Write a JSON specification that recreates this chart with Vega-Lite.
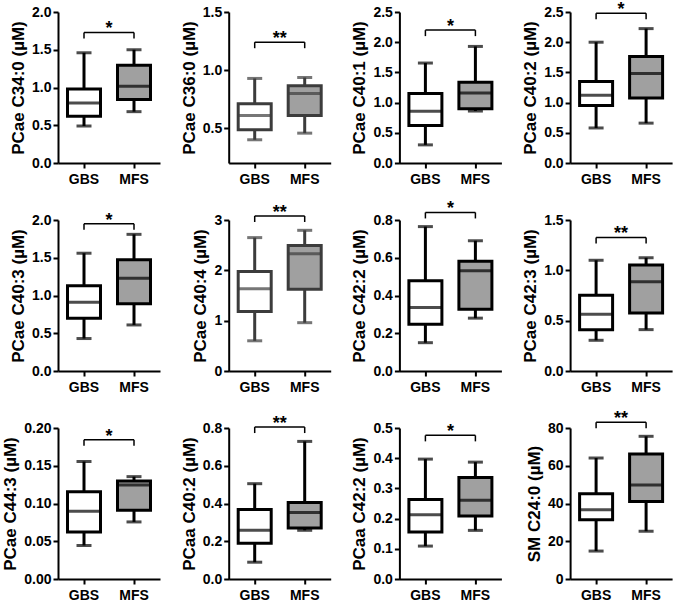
{
"$schema": "https://vega.github.io/schema/vega-lite/v6.json",
"background": "white",
"padding": {"left": 1, "top": 1, "right": 5, "bottom": 5},
"columns": 4,
"spacing": {"row": 57, "column": 68.7},
"bounds": "flush",
"datasets": {
"p1": [{"group":"GBS","min":0.49,"q1":0.62,"median":0.795,"q3":0.98,"max":1.46,"bracket":1.73,"sig":"*"},{"group":"MFS","min":0.68,"q1":0.84,"median":1.015,"q3":1.295,"max":1.5,"bracket":1.73,"sig":"*"}],
"p2": [{"group":"GBS","min":0.4,"q1":0.486,"median":0.61,"q3":0.711,"max":0.928,"bracket":1.24,"sig":"**"},{"group":"MFS","min":0.457,"q1":0.61,"median":0.798,"q3":0.864,"max":0.936,"bracket":1.24,"sig":"**"}],
"p3": [{"group":"GBS","min":0.3,"q1":0.62,"median":0.855,"q3":1.15,"max":1.655,"bracket":2.2,"sig":"*"},{"group":"MFS","min":0.86,"q1":0.9,"median":1.16,"q3":1.335,"max":1.93,"bracket":2.2,"sig":"*"}],
"p4": [{"group":"GBS","min":0.58,"q1":0.95,"median":1.12,"q3":1.35,"max":2.0,"bracket":2.48,"sig":"*"},{"group":"MFS","min":0.66,"q1":1.075,"median":1.48,"q3":1.765,"max":2.225,"bracket":2.48,"sig":"*"}],
"p5": [{"group":"GBS","min":0.43,"q1":0.7,"median":0.91,"q3":1.13,"max":1.56,"bracket":1.95,"sig":"*"},{"group":"MFS","min":0.61,"q1":0.89,"median":1.23,"q3":1.475,"max":1.81,"bracket":1.95,"sig":"*"}],
"p6": [{"group":"GBS","min":0.6,"q1":1.18,"median":1.635,"q3":1.975,"max":2.65,"bracket":3.08,"sig":"**"},{"group":"MFS","min":0.96,"q1":1.625,"median":2.33,"q3":2.495,"max":2.795,"bracket":3.08,"sig":"**"}],
"p7": [{"group":"GBS","min":0.15,"q1":0.248,"median":0.336,"q3":0.478,"max":0.765,"bracket":0.84,"sig":"*"},{"group":"MFS","min":0.28,"q1":0.327,"median":0.531,"q3":0.581,"max":0.69,"bracket":0.84,"sig":"*"}],
"p8": [{"group":"GBS","min":0.305,"q1":0.411,"median":0.564,"q3":0.753,"max":1.1,"bracket":1.327,"sig":"**"},{"group":"MFS","min":0.411,"q1":0.577,"median":0.886,"q3":1.052,"max":1.125,"bracket":1.327,"sig":"**"}],
"p9": [{"group":"GBS","min":0.0444,"q1":0.0622,"median":0.0898,"q3":0.1156,"max":0.1556,"bracket":0.1844,"sig":"*"},{"group":"MFS","min":0.0756,"q1":0.0911,"median":0.1244,"q3":0.1298,"max":0.1356,"bracket":0.1844,"sig":"*"}],
"p10": [{"group":"GBS","min":0.089,"q1":0.19,"median":0.258,"q3":0.368,"max":0.505,"bracket":0.805,"sig":"**"},{"group":"MFS","min":0.258,"q1":0.27,"median":0.352,"q3":0.405,"max":0.729,"bracket":0.805,"sig":"**"}],
"p11": [{"group":"GBS","min":0.109,"q1":0.156,"median":0.213,"q3":0.263,"max":0.397,"bracket":0.4756,"sig":"*"},{"group":"MFS","min":0.161,"q1":0.209,"median":0.261,"q3":0.336,"max":0.387,"bracket":0.4756,"sig":"*"}],
"p12": [{"group":"GBS","min":14.8,"q1":31.4,"median":36.7,"q3":45.2,"max":64.1,"bracket":83,"sig":"**"},{"group":"MFS","min":25.3,"q1":41.0,"median":49.8,"q3":66.2,"max":75.6,"bracket":83,"sig":"**"}]
},
"concat": [
{"width":102,"height":151,"data":{"name":"p1"},
"encoding":{"x":{"field":"group","type":"nominal","sort":["GBS","MFS"],"scale":{"paddingInner":0,"paddingOuter":0.02},"axis":{"title":null,"labelAngle":0}},
"y":{"field":"median","type":"quantitative","scale":{"domain":[0,2],"nice":false},"axis":{"title":"PCae C34:0 (µM)","values":[0,0.5,1,1.5,2],"format":".1f"}}},
"layer":[
{"mark":{"type":"rule","color":"black","strokeWidth":3},"encoding":{"y":{"field":"min","type":"quantitative"},"y2":{"field":"max"}}},
{"mark":{"type":"bar","size":33,"stroke":"black","strokeWidth":3},"encoding":{"y":{"field":"q1","type":"quantitative"},"y2":{"field":"q3"},"fill":{"field":"group","type":"nominal","scale":{"domain":["GBS","MFS"],"range":["#ffffff","#a0a0a0"]},"legend":null}}},
{"mark":{"type":"tick","size":33,"thickness":3,"color":"black"}},
{"mark":{"type":"tick","size":15,"thickness":3,"color":"black"},"encoding":{"y":{"field":"min","type":"quantitative"}}},
{"mark":{"type":"tick","size":15,"thickness":3,"color":"black"},"encoding":{"y":{"field":"max","type":"quantitative"}}},
{"mark":{"type":"line","color":"black","strokeWidth":1.5},"encoding":{"y":{"field":"bracket","type":"quantitative"}}},
{"mark":{"type":"rule","color":"black","strokeWidth":1.5,"y2Offset":6},"encoding":{"y":{"field":"bracket","type":"quantitative"},"y2":{"field":"bracket"}}},
{"transform":[{"filter":"datum.group == 'GBS'"}],"mark":{"type":"text","dx":25,"dy":2,"baseline":"alphabetic","fontSize":18,"fontWeight":"bold","font":"Liberation Sans","color":"black"},"encoding":{"y":{"field":"bracket","type":"quantitative"},"text":{"field":"sig"}}}
]},
{"width":102,"height":151,"data":{"name":"p2"},
"encoding":{"x":{"field":"group","type":"nominal","sort":["GBS","MFS"],"scale":{"paddingInner":0,"paddingOuter":0.02},"axis":{"title":null,"labelAngle":0}},
"y":{"field":"median","type":"quantitative","scale":{"domain":[0.2,1.5],"nice":false},"axis":{"title":"PCae C36:0 (µM)","values":[0.5,1,1.5],"format":".1f"}}},
"layer":[
{"mark":{"type":"rule","color":"#3c3c3c","strokeWidth":3},"encoding":{"y":{"field":"min","type":"quantitative"},"y2":{"field":"max"}}},
{"mark":{"type":"bar","size":33,"stroke":"#3c3c3c","strokeWidth":3},"encoding":{"y":{"field":"q1","type":"quantitative"},"y2":{"field":"q3"},"fill":{"field":"group","type":"nominal","scale":{"domain":["GBS","MFS"],"range":["#ffffff","#a0a0a0"]},"legend":null}}},
{"mark":{"type":"tick","size":33,"thickness":3,"color":"#3c3c3c"}},
{"mark":{"type":"tick","size":15,"thickness":3,"color":"#3c3c3c"},"encoding":{"y":{"field":"min","type":"quantitative"}}},
{"mark":{"type":"tick","size":15,"thickness":3,"color":"#3c3c3c"},"encoding":{"y":{"field":"max","type":"quantitative"}}},
{"mark":{"type":"line","color":"black","strokeWidth":1.5},"encoding":{"y":{"field":"bracket","type":"quantitative"}}},
{"mark":{"type":"rule","color":"black","strokeWidth":1.5,"y2Offset":6},"encoding":{"y":{"field":"bracket","type":"quantitative"},"y2":{"field":"bracket"}}},
{"transform":[{"filter":"datum.group == 'GBS'"}],"mark":{"type":"text","dx":25,"dy":2,"baseline":"alphabetic","fontSize":18,"fontWeight":"bold","font":"Liberation Sans","color":"black"},"encoding":{"y":{"field":"bracket","type":"quantitative"},"text":{"field":"sig"}}}
]},
{"width":102,"height":151,"data":{"name":"p3"},
"encoding":{"x":{"field":"group","type":"nominal","sort":["GBS","MFS"],"scale":{"paddingInner":0,"paddingOuter":0.02},"axis":{"title":null,"labelAngle":0}},
"y":{"field":"median","type":"quantitative","scale":{"domain":[0,2.5],"nice":false},"axis":{"title":"PCae C40:1 (µM)","values":[0,0.5,1,1.5,2,2.5],"format":".1f"}}},
"layer":[
{"mark":{"type":"rule","color":"black","strokeWidth":3},"encoding":{"y":{"field":"min","type":"quantitative"},"y2":{"field":"max"}}},
{"mark":{"type":"bar","size":33,"stroke":"black","strokeWidth":3},"encoding":{"y":{"field":"q1","type":"quantitative"},"y2":{"field":"q3"},"fill":{"field":"group","type":"nominal","scale":{"domain":["GBS","MFS"],"range":["#ffffff","#a0a0a0"]},"legend":null}}},
{"mark":{"type":"tick","size":33,"thickness":3,"color":"black"}},
{"mark":{"type":"tick","size":15,"thickness":3,"color":"black"},"encoding":{"y":{"field":"min","type":"quantitative"}}},
{"mark":{"type":"tick","size":15,"thickness":3,"color":"black"},"encoding":{"y":{"field":"max","type":"quantitative"}}},
{"mark":{"type":"line","color":"black","strokeWidth":1.5},"encoding":{"y":{"field":"bracket","type":"quantitative"}}},
{"mark":{"type":"rule","color":"black","strokeWidth":1.5,"y2Offset":6},"encoding":{"y":{"field":"bracket","type":"quantitative"},"y2":{"field":"bracket"}}},
{"transform":[{"filter":"datum.group == 'GBS'"}],"mark":{"type":"text","dx":25,"dy":2,"baseline":"alphabetic","fontSize":18,"fontWeight":"bold","font":"Liberation Sans","color":"black"},"encoding":{"y":{"field":"bracket","type":"quantitative"},"text":{"field":"sig"}}}
]},
{"width":102,"height":151,"data":{"name":"p4"},
"encoding":{"x":{"field":"group","type":"nominal","sort":["GBS","MFS"],"scale":{"paddingInner":0,"paddingOuter":0.02},"axis":{"title":null,"labelAngle":0}},
"y":{"field":"median","type":"quantitative","scale":{"domain":[0,2.5],"nice":false},"axis":{"title":"PCae C40:2 (µM)","values":[0,0.5,1,1.5,2,2.5],"format":".1f"}}},
"layer":[
{"mark":{"type":"rule","color":"black","strokeWidth":3},"encoding":{"y":{"field":"min","type":"quantitative"},"y2":{"field":"max"}}},
{"mark":{"type":"bar","size":33,"stroke":"black","strokeWidth":3},"encoding":{"y":{"field":"q1","type":"quantitative"},"y2":{"field":"q3"},"fill":{"field":"group","type":"nominal","scale":{"domain":["GBS","MFS"],"range":["#ffffff","#a0a0a0"]},"legend":null}}},
{"mark":{"type":"tick","size":33,"thickness":3,"color":"black"}},
{"mark":{"type":"tick","size":15,"thickness":3,"color":"black"},"encoding":{"y":{"field":"min","type":"quantitative"}}},
{"mark":{"type":"tick","size":15,"thickness":3,"color":"black"},"encoding":{"y":{"field":"max","type":"quantitative"}}},
{"mark":{"type":"line","color":"black","strokeWidth":1.5},"encoding":{"y":{"field":"bracket","type":"quantitative"}}},
{"mark":{"type":"rule","color":"black","strokeWidth":1.5,"y2Offset":6},"encoding":{"y":{"field":"bracket","type":"quantitative"},"y2":{"field":"bracket"}}},
{"transform":[{"filter":"datum.group == 'GBS'"}],"mark":{"type":"text","dx":25,"dy":2,"baseline":"alphabetic","fontSize":18,"fontWeight":"bold","font":"Liberation Sans","color":"black"},"encoding":{"y":{"field":"bracket","type":"quantitative"},"text":{"field":"sig"}}}
]},
{"width":102,"height":151,"data":{"name":"p5"},
"encoding":{"x":{"field":"group","type":"nominal","sort":["GBS","MFS"],"scale":{"paddingInner":0,"paddingOuter":0.02},"axis":{"title":null,"labelAngle":0}},
"y":{"field":"median","type":"quantitative","scale":{"domain":[0,2],"nice":false},"axis":{"title":"PCae C40:3 (µM)","values":[0,0.5,1,1.5,2],"format":".1f"}}},
"layer":[
{"mark":{"type":"rule","color":"black","strokeWidth":3},"encoding":{"y":{"field":"min","type":"quantitative"},"y2":{"field":"max"}}},
{"mark":{"type":"bar","size":33,"stroke":"black","strokeWidth":3},"encoding":{"y":{"field":"q1","type":"quantitative"},"y2":{"field":"q3"},"fill":{"field":"group","type":"nominal","scale":{"domain":["GBS","MFS"],"range":["#ffffff","#a0a0a0"]},"legend":null}}},
{"mark":{"type":"tick","size":33,"thickness":3,"color":"black"}},
{"mark":{"type":"tick","size":15,"thickness":3,"color":"black"},"encoding":{"y":{"field":"min","type":"quantitative"}}},
{"mark":{"type":"tick","size":15,"thickness":3,"color":"black"},"encoding":{"y":{"field":"max","type":"quantitative"}}},
{"mark":{"type":"line","color":"black","strokeWidth":1.5},"encoding":{"y":{"field":"bracket","type":"quantitative"}}},
{"mark":{"type":"rule","color":"black","strokeWidth":1.5,"y2Offset":6},"encoding":{"y":{"field":"bracket","type":"quantitative"},"y2":{"field":"bracket"}}},
{"transform":[{"filter":"datum.group == 'GBS'"}],"mark":{"type":"text","dx":25,"dy":2,"baseline":"alphabetic","fontSize":18,"fontWeight":"bold","font":"Liberation Sans","color":"black"},"encoding":{"y":{"field":"bracket","type":"quantitative"},"text":{"field":"sig"}}}
]},
{"width":102,"height":151,"data":{"name":"p6"},
"encoding":{"x":{"field":"group","type":"nominal","sort":["GBS","MFS"],"scale":{"paddingInner":0,"paddingOuter":0.02},"axis":{"title":null,"labelAngle":0}},
"y":{"field":"median","type":"quantitative","scale":{"domain":[0,3],"nice":false},"axis":{"title":"PCae C40:4 (µM)","values":[0,1,2,3],"format":"d"}}},
"layer":[
{"mark":{"type":"rule","color":"#3c3c3c","strokeWidth":3},"encoding":{"y":{"field":"min","type":"quantitative"},"y2":{"field":"max"}}},
{"mark":{"type":"bar","size":33,"stroke":"#3c3c3c","strokeWidth":3},"encoding":{"y":{"field":"q1","type":"quantitative"},"y2":{"field":"q3"},"fill":{"field":"group","type":"nominal","scale":{"domain":["GBS","MFS"],"range":["#ffffff","#a0a0a0"]},"legend":null}}},
{"mark":{"type":"tick","size":33,"thickness":3,"color":"#3c3c3c"}},
{"mark":{"type":"tick","size":15,"thickness":3,"color":"#3c3c3c"},"encoding":{"y":{"field":"min","type":"quantitative"}}},
{"mark":{"type":"tick","size":15,"thickness":3,"color":"#3c3c3c"},"encoding":{"y":{"field":"max","type":"quantitative"}}},
{"mark":{"type":"line","color":"black","strokeWidth":1.5},"encoding":{"y":{"field":"bracket","type":"quantitative"}}},
{"mark":{"type":"rule","color":"black","strokeWidth":1.5,"y2Offset":6},"encoding":{"y":{"field":"bracket","type":"quantitative"},"y2":{"field":"bracket"}}},
{"transform":[{"filter":"datum.group == 'GBS'"}],"mark":{"type":"text","dx":25,"dy":2,"baseline":"alphabetic","fontSize":18,"fontWeight":"bold","font":"Liberation Sans","color":"black"},"encoding":{"y":{"field":"bracket","type":"quantitative"},"text":{"field":"sig"}}}
]},
{"width":102,"height":151,"data":{"name":"p7"},
"encoding":{"x":{"field":"group","type":"nominal","sort":["GBS","MFS"],"scale":{"paddingInner":0,"paddingOuter":0.02},"axis":{"title":null,"labelAngle":0}},
"y":{"field":"median","type":"quantitative","scale":{"domain":[0,0.8],"nice":false},"axis":{"title":"PCae C42:2 (µM)","values":[0,0.2,0.4,0.6,0.8],"format":".1f"}}},
"layer":[
{"mark":{"type":"rule","color":"black","strokeWidth":3},"encoding":{"y":{"field":"min","type":"quantitative"},"y2":{"field":"max"}}},
{"mark":{"type":"bar","size":33,"stroke":"black","strokeWidth":3},"encoding":{"y":{"field":"q1","type":"quantitative"},"y2":{"field":"q3"},"fill":{"field":"group","type":"nominal","scale":{"domain":["GBS","MFS"],"range":["#ffffff","#a0a0a0"]},"legend":null}}},
{"mark":{"type":"tick","size":33,"thickness":3,"color":"black"}},
{"mark":{"type":"tick","size":15,"thickness":3,"color":"black"},"encoding":{"y":{"field":"min","type":"quantitative"}}},
{"mark":{"type":"tick","size":15,"thickness":3,"color":"black"},"encoding":{"y":{"field":"max","type":"quantitative"}}},
{"mark":{"type":"line","color":"black","strokeWidth":1.5},"encoding":{"y":{"field":"bracket","type":"quantitative"}}},
{"mark":{"type":"rule","color":"black","strokeWidth":1.5,"y2Offset":6},"encoding":{"y":{"field":"bracket","type":"quantitative"},"y2":{"field":"bracket"}}},
{"transform":[{"filter":"datum.group == 'GBS'"}],"mark":{"type":"text","dx":25,"dy":2,"baseline":"alphabetic","fontSize":18,"fontWeight":"bold","font":"Liberation Sans","color":"black"},"encoding":{"y":{"field":"bracket","type":"quantitative"},"text":{"field":"sig"}}}
]},
{"width":102,"height":151,"data":{"name":"p8"},
"encoding":{"x":{"field":"group","type":"nominal","sort":["GBS","MFS"],"scale":{"paddingInner":0,"paddingOuter":0.02},"axis":{"title":null,"labelAngle":0}},
"y":{"field":"median","type":"quantitative","scale":{"domain":[0,1.5],"nice":false},"axis":{"title":"PCae C42:3 (µM)","values":[0,0.5,1,1.5],"format":".1f"}}},
"layer":[
{"mark":{"type":"rule","color":"black","strokeWidth":3},"encoding":{"y":{"field":"min","type":"quantitative"},"y2":{"field":"max"}}},
{"mark":{"type":"bar","size":33,"stroke":"black","strokeWidth":3},"encoding":{"y":{"field":"q1","type":"quantitative"},"y2":{"field":"q3"},"fill":{"field":"group","type":"nominal","scale":{"domain":["GBS","MFS"],"range":["#ffffff","#a0a0a0"]},"legend":null}}},
{"mark":{"type":"tick","size":33,"thickness":3,"color":"black"}},
{"mark":{"type":"tick","size":15,"thickness":3,"color":"black"},"encoding":{"y":{"field":"min","type":"quantitative"}}},
{"mark":{"type":"tick","size":15,"thickness":3,"color":"black"},"encoding":{"y":{"field":"max","type":"quantitative"}}},
{"mark":{"type":"line","color":"black","strokeWidth":1.5},"encoding":{"y":{"field":"bracket","type":"quantitative"}}},
{"mark":{"type":"rule","color":"black","strokeWidth":1.5,"y2Offset":6},"encoding":{"y":{"field":"bracket","type":"quantitative"},"y2":{"field":"bracket"}}},
{"transform":[{"filter":"datum.group == 'GBS'"}],"mark":{"type":"text","dx":25,"dy":2,"baseline":"alphabetic","fontSize":18,"fontWeight":"bold","font":"Liberation Sans","color":"black"},"encoding":{"y":{"field":"bracket","type":"quantitative"},"text":{"field":"sig"}}}
]},
{"width":102,"height":151,"data":{"name":"p9"},
"encoding":{"x":{"field":"group","type":"nominal","sort":["GBS","MFS"],"scale":{"paddingInner":0,"paddingOuter":0.02},"axis":{"title":null,"labelAngle":0}},
"y":{"field":"median","type":"quantitative","scale":{"domain":[0,0.2],"nice":false},"axis":{"title":"PCae C44:3 (µM)","values":[0,0.05,0.1,0.15,0.2],"format":".2f"}}},
"layer":[
{"mark":{"type":"rule","color":"black","strokeWidth":3},"encoding":{"y":{"field":"min","type":"quantitative"},"y2":{"field":"max"}}},
{"mark":{"type":"bar","size":33,"stroke":"black","strokeWidth":3},"encoding":{"y":{"field":"q1","type":"quantitative"},"y2":{"field":"q3"},"fill":{"field":"group","type":"nominal","scale":{"domain":["GBS","MFS"],"range":["#ffffff","#a0a0a0"]},"legend":null}}},
{"mark":{"type":"tick","size":33,"thickness":3,"color":"black"}},
{"mark":{"type":"tick","size":15,"thickness":3,"color":"black"},"encoding":{"y":{"field":"min","type":"quantitative"}}},
{"mark":{"type":"tick","size":15,"thickness":3,"color":"black"},"encoding":{"y":{"field":"max","type":"quantitative"}}},
{"mark":{"type":"line","color":"black","strokeWidth":1.5},"encoding":{"y":{"field":"bracket","type":"quantitative"}}},
{"mark":{"type":"rule","color":"black","strokeWidth":1.5,"y2Offset":6},"encoding":{"y":{"field":"bracket","type":"quantitative"},"y2":{"field":"bracket"}}},
{"transform":[{"filter":"datum.group == 'GBS'"}],"mark":{"type":"text","dx":25,"dy":2,"baseline":"alphabetic","fontSize":18,"fontWeight":"bold","font":"Liberation Sans","color":"black"},"encoding":{"y":{"field":"bracket","type":"quantitative"},"text":{"field":"sig"}}}
]},
{"width":102,"height":151,"data":{"name":"p10"},
"encoding":{"x":{"field":"group","type":"nominal","sort":["GBS","MFS"],"scale":{"paddingInner":0,"paddingOuter":0.02},"axis":{"title":null,"labelAngle":0}},
"y":{"field":"median","type":"quantitative","scale":{"domain":[0,0.8],"nice":false},"axis":{"title":"PCaa C40:2 (µM)","values":[0,0.2,0.4,0.6,0.8],"format":".1f"}}},
"layer":[
{"mark":{"type":"rule","color":"black","strokeWidth":3},"encoding":{"y":{"field":"min","type":"quantitative"},"y2":{"field":"max"}}},
{"mark":{"type":"bar","size":33,"stroke":"black","strokeWidth":3},"encoding":{"y":{"field":"q1","type":"quantitative"},"y2":{"field":"q3"},"fill":{"field":"group","type":"nominal","scale":{"domain":["GBS","MFS"],"range":["#ffffff","#a0a0a0"]},"legend":null}}},
{"mark":{"type":"tick","size":33,"thickness":3,"color":"black"}},
{"mark":{"type":"tick","size":15,"thickness":3,"color":"black"},"encoding":{"y":{"field":"min","type":"quantitative"}}},
{"mark":{"type":"tick","size":15,"thickness":3,"color":"black"},"encoding":{"y":{"field":"max","type":"quantitative"}}},
{"mark":{"type":"line","color":"black","strokeWidth":1.5},"encoding":{"y":{"field":"bracket","type":"quantitative"}}},
{"mark":{"type":"rule","color":"black","strokeWidth":1.5,"y2Offset":6},"encoding":{"y":{"field":"bracket","type":"quantitative"},"y2":{"field":"bracket"}}},
{"transform":[{"filter":"datum.group == 'GBS'"}],"mark":{"type":"text","dx":25,"dy":2,"baseline":"alphabetic","fontSize":18,"fontWeight":"bold","font":"Liberation Sans","color":"black"},"encoding":{"y":{"field":"bracket","type":"quantitative"},"text":{"field":"sig"}}}
]},
{"width":102,"height":151,"data":{"name":"p11"},
"encoding":{"x":{"field":"group","type":"nominal","sort":["GBS","MFS"],"scale":{"paddingInner":0,"paddingOuter":0.02},"axis":{"title":null,"labelAngle":0}},
"y":{"field":"median","type":"quantitative","scale":{"domain":[0,0.5],"nice":false},"axis":{"title":"PCaa C42:2 (µM)","values":[0,0.1,0.2,0.3,0.4,0.5],"format":".1f"}}},
"layer":[
{"mark":{"type":"rule","color":"black","strokeWidth":3},"encoding":{"y":{"field":"min","type":"quantitative"},"y2":{"field":"max"}}},
{"mark":{"type":"bar","size":33,"stroke":"black","strokeWidth":3},"encoding":{"y":{"field":"q1","type":"quantitative"},"y2":{"field":"q3"},"fill":{"field":"group","type":"nominal","scale":{"domain":["GBS","MFS"],"range":["#ffffff","#a0a0a0"]},"legend":null}}},
{"mark":{"type":"tick","size":33,"thickness":3,"color":"black"}},
{"mark":{"type":"tick","size":15,"thickness":3,"color":"black"},"encoding":{"y":{"field":"min","type":"quantitative"}}},
{"mark":{"type":"tick","size":15,"thickness":3,"color":"black"},"encoding":{"y":{"field":"max","type":"quantitative"}}},
{"mark":{"type":"line","color":"black","strokeWidth":1.5},"encoding":{"y":{"field":"bracket","type":"quantitative"}}},
{"mark":{"type":"rule","color":"black","strokeWidth":1.5,"y2Offset":6},"encoding":{"y":{"field":"bracket","type":"quantitative"},"y2":{"field":"bracket"}}},
{"transform":[{"filter":"datum.group == 'GBS'"}],"mark":{"type":"text","dx":25,"dy":2,"baseline":"alphabetic","fontSize":18,"fontWeight":"bold","font":"Liberation Sans","color":"black"},"encoding":{"y":{"field":"bracket","type":"quantitative"},"text":{"field":"sig"}}}
]},
{"width":102,"height":151,"data":{"name":"p12"},
"encoding":{"x":{"field":"group","type":"nominal","sort":["GBS","MFS"],"scale":{"paddingInner":0,"paddingOuter":0.02},"axis":{"title":null,"labelAngle":0}},
"y":{"field":"median","type":"quantitative","scale":{"domain":[0,80],"nice":false},"axis":{"title":"SM C24:0 (µM)","values":[0,20,40,60,80],"format":"d"}}},
"layer":[
{"mark":{"type":"rule","color":"black","strokeWidth":3},"encoding":{"y":{"field":"min","type":"quantitative"},"y2":{"field":"max"}}},
{"mark":{"type":"bar","size":33,"stroke":"black","strokeWidth":3},"encoding":{"y":{"field":"q1","type":"quantitative"},"y2":{"field":"q3"},"fill":{"field":"group","type":"nominal","scale":{"domain":["GBS","MFS"],"range":["#ffffff","#a0a0a0"]},"legend":null}}},
{"mark":{"type":"tick","size":33,"thickness":3,"color":"black"}},
{"mark":{"type":"tick","size":15,"thickness":3,"color":"black"},"encoding":{"y":{"field":"min","type":"quantitative"}}},
{"mark":{"type":"tick","size":15,"thickness":3,"color":"black"},"encoding":{"y":{"field":"max","type":"quantitative"}}},
{"mark":{"type":"line","color":"black","strokeWidth":1.5},"encoding":{"y":{"field":"bracket","type":"quantitative"}}},
{"mark":{"type":"rule","color":"black","strokeWidth":1.5,"y2Offset":6},"encoding":{"y":{"field":"bracket","type":"quantitative"},"y2":{"field":"bracket"}}},
{"transform":[{"filter":"datum.group == 'GBS'"}],"mark":{"type":"text","dx":25,"dy":2,"baseline":"alphabetic","fontSize":18,"fontWeight":"bold","font":"Liberation Sans","color":"black"},"encoding":{"y":{"field":"bracket","type":"quantitative"},"text":{"field":"sig"}}}
]}
],
"config": {
"view": {"stroke": null},
"font": "Liberation Sans",
"axis": {"domainColor": "black", "domainWidth": 2, "tickColor": "black", "tickWidth": 2, "tickSize": 5, "labelFont": "Liberation Sans", "labelFontSize": 14, "labelFontWeight": "bold", "labelColor": "black", "titleFont": "Liberation Sans", "titleFontSize": 17, "titleFontWeight": "bold", "titleColor": "black", "grid": false, "minExtent": 0},
"axisX": {"labelPadding": 4},
"axisY": {"labelPadding": 2, "titlePadding": 4}
}
}
